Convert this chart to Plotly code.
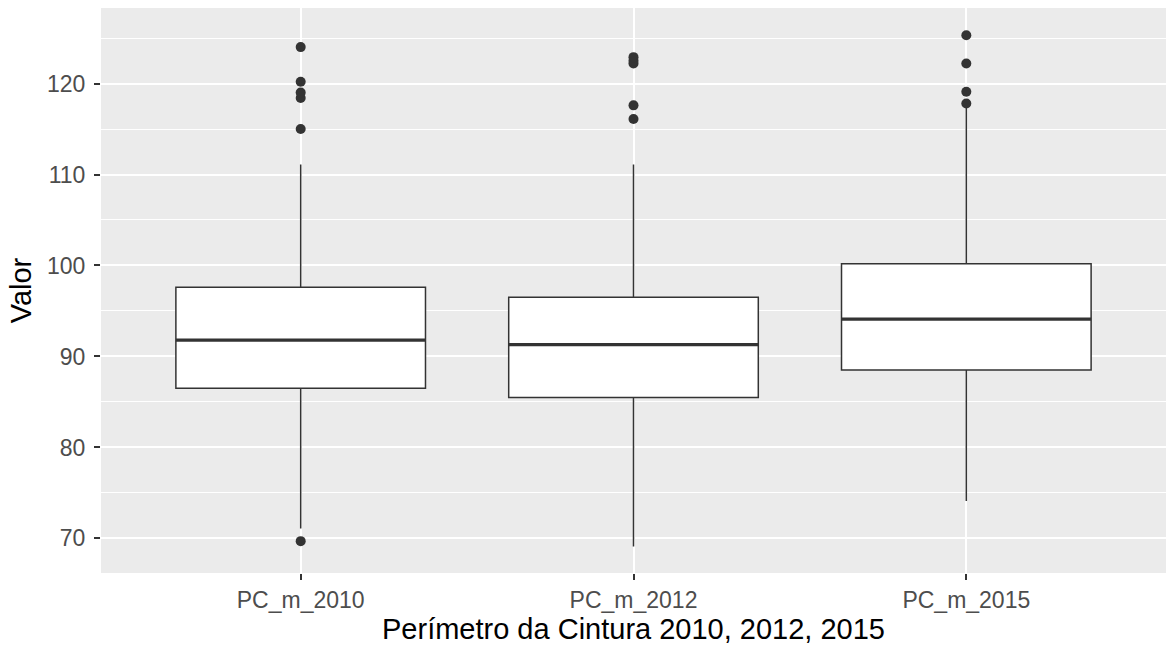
import plotly.graph_objects as go

categories = ["PC_m_2010", "PC_m_2012", "PC_m_2015"]
q1 = [86.5, 85.5, 88.5]
median = [91.8, 91.3, 94.1]
q3 = [97.6, 96.5, 100.2]
lower_whisker = [71.1, 69.1, 74.1]
upper_whisker = [111.1, 111.1, 117.4]
outliers = [
    [69.7, 115.0, 118.4, 119.0, 120.2, 124.0],
    [116.1, 117.6, 122.2, 122.5, 122.9],
    [117.8, 119.1, 122.2, 125.3],
]
y_ticks = [70, 80, 90, 100, 110, 120]

positions = list(range(1, len(categories) + 1))
box_width = 0.75
dark = "#333333"
font_family = "Liberation Sans, Arial, sans-serif"

fig = go.Figure()

fig.add_trace(go.Box(
    x=positions,
    q1=q1, median=median, q3=q3,
    lowerfence=lower_whisker, upperfence=upper_whisker,
    width=box_width,
    fillcolor="white",
    line=dict(color=dark, width=1.5),
    whiskerwidth=0,
    boxpoints=False,
    showlegend=False,
))

# thicker median lines (ggplot fatten)
for p, m in zip(positions, median):
    fig.add_trace(go.Scatter(
        x=[p - box_width / 2, p + box_width / 2], y=[m, m],
        mode="lines", line=dict(color=dark, width=3.2),
        showlegend=False, hoverinfo="skip",
    ))

# outliers
for p, outs in zip(positions, outliers):
    fig.add_trace(go.Scatter(
        x=[p] * len(outs), y=outs, mode="markers",
        marker=dict(color=dark, size=10),
        showlegend=False,
    ))

fig.update_layout(
    width=1167, height=653,
    margin=dict(l=101, r=1, t=8, b=80),
    paper_bgcolor="white",
    plot_bgcolor="#EBEBEB",
    font=dict(family=font_family, color="black"),
    showlegend=False,
)

fig.update_xaxes(
    range=[0.4, 3.6],
    tickvals=positions, ticktext=categories,
    showgrid=True, gridcolor="white", gridwidth=2,
    zeroline=False, showline=False,
    ticks="outside", ticklen=6, tickcolor=dark, tickwidth=1.5,
    tickfont=dict(size=23, color="#4D4D4D", family=font_family),
    title=dict(text="Perímetro da Cintura 2010, 2012, 2015",
               font=dict(size=29, color="black", family=font_family),
               standoff=7),
)

fig.update_yaxes(
    range=[66.2, 128.3],
    tickvals=y_ticks,
    showgrid=True, gridcolor="white", gridwidth=2,
    minor=dict(dtick=5, tick0=0, showgrid=True, gridcolor="white", gridwidth=1.1, ticks=""),
    zeroline=False, showline=False,
    ticks="outside", ticklen=6, tickcolor=dark, tickwidth=1.5,
    tickfont=dict(size=23, color="#4D4D4D", family=font_family),
    ticklabelstandoff=4,
    title=dict(text="Valor",
               font=dict(size=29, color="black", family=font_family),
               standoff=6),
)

fig.write_html("out.html")
